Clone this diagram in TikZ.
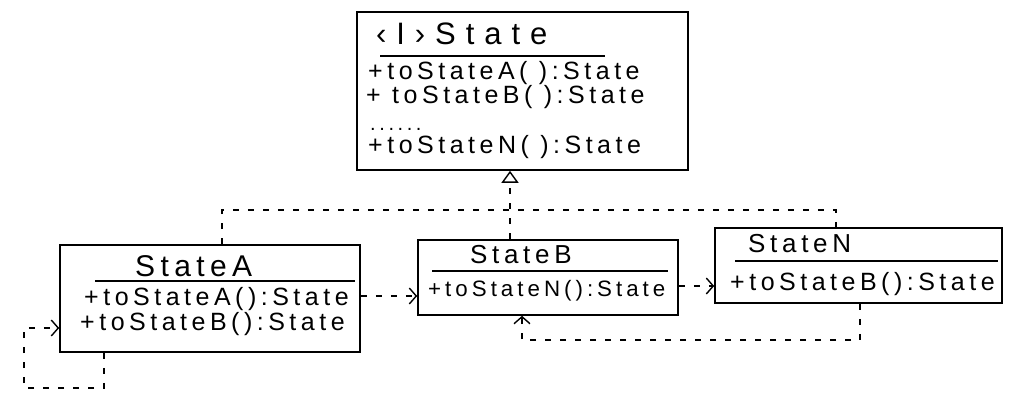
\documentclass[tikz,border=0pt]{standalone}
\usepackage{fontspec}
\setmainfont{Liberation Sans}
\usetikzlibrary{arrows.meta,calc}
\newfontfamily\hand[LetterSpace=18]{Liberation Sans}
\newfontfamily\handwide[LetterSpace=32]{Liberation Sans}
\tikzset{
  box/.style={draw, line width=1.6pt, inner sep=0pt},
  sep/.style={line width=1.3pt},
  ttl/.style={font=\hand\fontsize{30}{32}\selectfont, inner sep=0pt, anchor=west},
  meth/.style={font=\hand\fontsize{#1}{26}\selectfont, inner sep=0pt, anchor=west, text height=15pt, text depth=3pt},
  meth/.default=24,
  dep/.style={line width=1.3pt, dash pattern=on 6pt off 9pt},
  deparrow/.style={dep, -{Straight Barb[length=7pt,width=16pt,line width=1.4pt]}},
  real/.style={dep, -{Triangle[open,length=12pt,width=17pt,line width=1.4pt]}}
}
\begin{document}
\begin{tikzpicture}[x=1pt,y=-1pt]
\useasboundingbox[fill=white] (0,0) rectangle (1024,413);
% boxes
\node[box, minimum width=331pt, minimum height=158pt] (S) at (522.5,91) {};
\node[box, minimum width=300pt, minimum height=107pt] (A) at (210,298.5) {};
\node[box, minimum width=260pt, minimum height=75pt] (B) at (548,277.5) {};
\node[box, minimum width=287pt, minimum height=75pt] (N) at (858.5,265.5) {};
% interface State
\node[ttl, font=\handwide\fontsize{31}{33}\selectfont] (st) at (376,34) {‹I›State};
\draw[sep] (380,56) -- (605,56);
\node[meth=25] (s1) at (368,73) {+toStateA( ):State};
\node[meth=25] (s2) at (366,97) {+ toStateB( ):State};
\node[meth=20, text height=3pt, text depth=0pt] (s3) at (370,129) {......};
\node[meth=25] (s4) at (368,147) {+toStateN( ):State};
% StateA
\node[ttl] (at) at (135,266) {StateA};
\draw[sep] (95,281) -- (355,281);
\node[meth=25] (a1) at (84,299) {+toStateA():State};
\node[meth=25] (a2) at (80,324) {+toStateB():State};
% StateB
\node[ttl, font=\hand\fontsize{26}{28}\selectfont] (bt) at (470,255) {StateB};
\draw[sep] (432,271) -- (668,271);
\node[meth=22.3] (b1) at (428,290) {+toStateN():State};
% StateN
\node[ttl, font=\hand\fontsize{26}{28}\selectfont] (nt) at (748,244) {StateN};
\draw[sep] (735,261) -- (998,261);
\node[meth=25] (n1) at (730,284) {+toStateB():State};
% coordinates
\coordinate (Atop) at (222,0 |- A.north);
\coordinate (Ntop) at (836,0 |- N.north);
\coordinate (Btop) at (510,0 |- B.north);
\coordinate (Stri) at (510,0 |- S.south);
\coordinate (Bbot) at (522,0 |- B.south);
\coordinate (Nbot) at (860,0 |- N.south);
\coordinate (Abot) at (104,0 |- A.south);
\coordinate (Aleft) at (A.west |- 0,328);
% connectors
\draw[real] (Btop) -- (Stri);
\draw[dep] (Atop) -- (222,210) -- (836,210) -- (Ntop);
\draw[deparrow] (A.east |- 0,296) -- (B.west |- 0,296);
\draw[deparrow] (B.east |- 0,286) -- (N.west |- 0,286);
\draw[deparrow] (Nbot) -- (860,340) -- (522,340) -- (Bbot);
\draw[deparrow] (Abot) -- (104,388) -- (24,388) -- (24,328) -- (Aleft);
\end{tikzpicture}
\end{document}
